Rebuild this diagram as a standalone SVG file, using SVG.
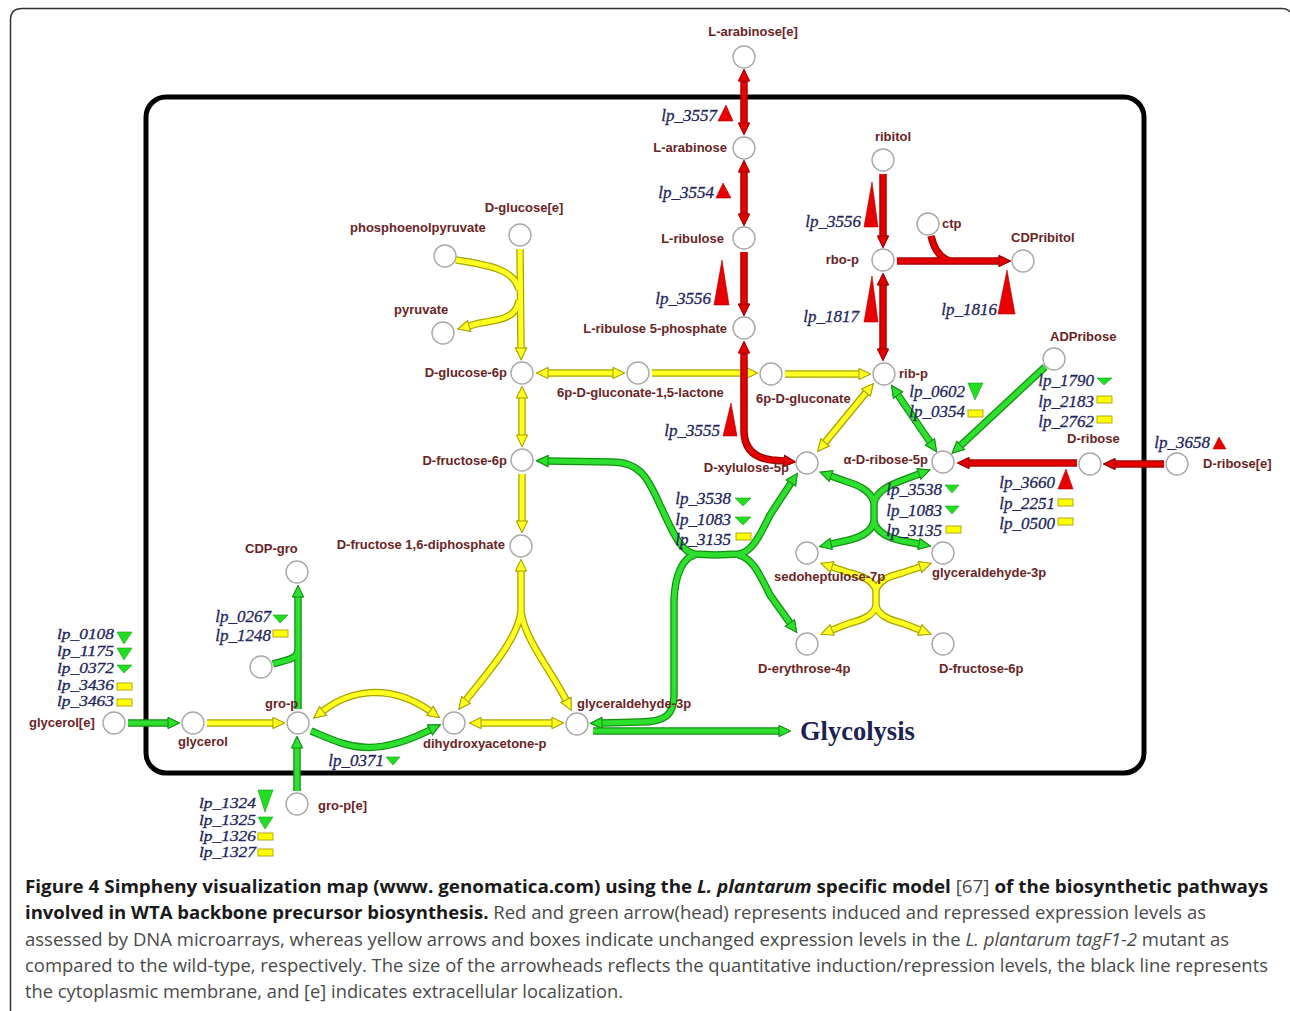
<svg xmlns="http://www.w3.org/2000/svg" xmlns:xlink="http://www.w3.org/1999/xlink" width="1290" height="1011" viewBox="0 0 1290 1011">
<style>
.n{fill:#fff;stroke:#a9a9a9;stroke-width:1.4}
.lb{font-family:"Liberation Sans",Arial,sans-serif;font-weight:bold;font-size:13px;fill:#6b2424}
.g{font-family:"Liberation Serif","Times New Roman",serif;font-style:italic;font-size:17px;fill:#23265c;stroke:#23265c;stroke-width:.3}
.gs{font-size:15px}
.tr{fill:#e80000;stroke:#b00000;stroke-width:.6}
.tg{fill:#22dd22;stroke:#14a014;stroke-width:.6}
.bx{fill:#ffff00;stroke:#b0a000;stroke-width:.9}
.yo{fill:none;stroke:#a8a200;stroke-width:7.5}
.yf{fill:none;stroke:#ffff22;stroke-width:5}
.go{fill:none;stroke:#148f14;stroke-width:7.5}
.gf{fill:none;stroke:#2de02d;stroke-width:5}
.ro{fill:none;stroke:#a00000;stroke-width:7.5}
.rf{fill:none;stroke:#e50000;stroke-width:5}
.cap{font-family:"Open Sans","Noto Sans",sans-serif;font-size:18px;fill:#4a4a4a}
.cb{font-weight:bold;fill:#1a1a1a}
</style>
<defs>
<marker id="ay" markerUnits="userSpaceOnUse" markerWidth="14" markerHeight="14" refX="0" refY="6" orient="auto-start-reverse" overflow="visible"><path d="M0,0.5 L11.5,6 L0,11.5z" fill="#ffff22" stroke="#a8a200" stroke-width="1"/></marker>
<marker id="ag" markerUnits="userSpaceOnUse" markerWidth="14" markerHeight="14" refX="0" refY="6" orient="auto-start-reverse" overflow="visible"><path d="M0,0.5 L11.5,6 L0,11.5z" fill="#2de02d" stroke="#148f14" stroke-width="1"/></marker>
<marker id="ar" markerUnits="userSpaceOnUse" markerWidth="14" markerHeight="14" refX="0" refY="6" orient="auto-start-reverse" overflow="visible"><path d="M0,0.5 L11.5,6 L0,11.5z" fill="#e50000" stroke="#a00000" stroke-width="1"/></marker>
<path id="r1" d="M744,81 L744,123" marker-start="url(#ar)" marker-end="url(#ar)"/>
<path id="r2" d="M744,172 L744,214" marker-start="url(#ar)" marker-end="url(#ar)"/>
<path id="r3" d="M744,252 L744,304" marker-end="url(#ar)"/>
<path id="r4" d="M744,353 L744,432 Q745,457 772,460 L784,461" marker-start="url(#ar)" marker-end="url(#ar)"/>
<path id="r5" d="M883,174 L883,236" marker-end="url(#ar)"/>
<path id="r6" d="M883,285 L883,349" marker-start="url(#ar)" marker-end="url(#ar)"/>
<path id="r7" d="M897,261 L999,261" marker-end="url(#ar)"/>
<path id="r8" d="M931,236 Q936,257 950,261"/>
<path id="r9" d="M1164,464 L1115,464" marker-end="url(#ar)"/>
<path id="r10" d="M1077,463 L969,463" marker-end="url(#ar)"/>
<path id="g1" d="M898,395 L930,442" marker-start="url(#ag)" marker-end="url(#ag)"/>
<path id="g2" d="M1045,367 L960.6,445.5" marker-end="url(#ag)"/>
<path id="g3a" d="M715,555 L695,554 C680,552 672,530 660,505 C648,478 640,462 612,462 L548,461" marker-end="url(#ag)"/>
<path id="g3b" d="M715,555 L738,554 C752,553 760,535 770,515 L791,483" marker-end="url(#ag)"/>
<path id="g3c" d="M738,555 C752,557 760,575 770,595 L790,623" marker-end="url(#ag)"/>
<path id="g3d" d="M695,555 C683,557 675,575 674,600 L674,695 C674,715 665,722 640,722 L602,723" marker-end="url(#ag)"/>
<path id="g4" d="M593,731 L779,731" marker-end="url(#ag)"/>
<path id="g5a" d="M874,502 C870,490 858,485 845,481 L831,476" marker-end="url(#ag)"/>
<path id="g5b" d="M874,502 C878,490 890,485 903,480 L919,474" marker-end="url(#ag)"/>
<path id="g5c" d="M874,522 C870,534 858,538 845,541 L831,544" marker-end="url(#ag)"/>
<path id="g5d" d="M874,522 C878,534 890,538 903,541 L919,544" marker-end="url(#ag)"/>
<path id="g5e" d="M874,500 L874,524"/>
<path id="g6" d="M311,731 C345,745 370,760 430,730" marker-end="url(#ag)"/>
<path id="g7" d="M128,723 L168,723" marker-end="url(#ag)"/>
<path id="g8" d="M297,791 L297,748" marker-end="url(#ag)"/>
<path id="g9" d="M298,709 L298,597" marker-end="url(#ag)"/>
<path id="g10" d="M273,664 C285,660 297,660 298,650"/>
<path id="y1" d="M520,249 L521,348" marker-end="url(#ay)"/>
<path id="y2" d="M456,260 C490,265 515,270 519,290"/>
<path id="y3" d="M519,300 C517,318 500,320 480,323 L469,326" marker-end="url(#ay)"/>
<path id="y4" d="M548,373 L613,373" marker-start="url(#ay)" marker-end="url(#ay)"/>
<path id="y5" d="M652,373 L746,373" marker-end="url(#ay)"/>
<path id="y6" d="M785,374 L859,374" marker-end="url(#ay)"/>
<path id="y7" d="M825,442.5 L866,392.5" marker-start="url(#ay)" marker-end="url(#ay)"/>
<path id="y8" d="M522,398 L522,435" marker-start="url(#ay)" marker-end="url(#ay)"/>
<path id="y9" d="M522,474 L522,521" marker-end="url(#ay)"/>
<path id="y10" d="M521,571 L521,615" marker-start="url(#ay)"/>
<path id="y11" d="M521,612 C517,640 488,672 466,700" marker-end="url(#ay)"/>
<path id="y12" d="M521,612 C525,640 552,672 566,700" marker-end="url(#ay)"/>
<path id="y13" d="M481,723 L552,723" marker-start="url(#ay)" marker-end="url(#ay)"/>
<path id="y14" d="M323,711 C350,690 390,683 430,711" marker-start="url(#ay)" marker-end="url(#ay)"/>
<path id="y15" d="M207,723 L273,723" marker-end="url(#ay)"/>
<path id="y16a" d="M876,590 C873,580 862,576 850,573 L832,567" marker-end="url(#ay)"/>
<path id="y16b" d="M876,590 C879,580 890,576 902,573 L920,567" marker-end="url(#ay)"/>
<path id="y16c" d="M876,606 C873,616 862,620 850,623 L832,630" marker-end="url(#ay)"/>
<path id="y16d" d="M876,606 C879,616 890,620 902,623 L920,630" marker-end="url(#ay)"/>
<path id="y16e" d="M876,588 L876,608"/>
</defs>
<rect width="1290" height="1011" fill="#fff"/>
<path d="M10.5,1011 L10.5,20 Q10.5,8.5 22,8.5 L1282,8.5 Q1287,8.5 1290,12" fill="none" stroke="#333" stroke-width="1.5"/>
<rect x="146" y="97" width="998" height="676" rx="20" fill="none" stroke="#000" stroke-width="5"/>
<g id="connectors">
<use href="#y1" class="yo"/><use href="#y2" class="yo"/><use href="#y3" class="yo"/><use href="#y4" class="yo"/><use href="#y5" class="yo"/><use href="#y6" class="yo"/><use href="#y7" class="yo"/><use href="#y8" class="yo"/><use href="#y9" class="yo"/><use href="#y10" class="yo"/><use href="#y11" class="yo"/><use href="#y12" class="yo"/><use href="#y13" class="yo"/><use href="#y14" class="yo"/><use href="#y15" class="yo"/><use href="#y16a" class="yo"/><use href="#y16b" class="yo"/><use href="#y16c" class="yo"/><use href="#y16d" class="yo"/><use href="#y16e" class="yo"/>
<use href="#y1" class="yf"/><use href="#y2" class="yf"/><use href="#y3" class="yf"/><use href="#y4" class="yf"/><use href="#y5" class="yf"/><use href="#y6" class="yf"/><use href="#y7" class="yf"/><use href="#y8" class="yf"/><use href="#y9" class="yf"/><use href="#y10" class="yf"/><use href="#y11" class="yf"/><use href="#y12" class="yf"/><use href="#y13" class="yf"/><use href="#y14" class="yf"/><use href="#y15" class="yf"/><use href="#y16a" class="yf"/><use href="#y16b" class="yf"/><use href="#y16c" class="yf"/><use href="#y16d" class="yf"/><use href="#y16e" class="yf"/>
<use href="#g1" class="go"/><use href="#g2" class="go"/><use href="#g3a" class="go"/><use href="#g3b" class="go"/><use href="#g3c" class="go"/><use href="#g3d" class="go"/><use href="#g4" class="go"/><use href="#g5a" class="go"/><use href="#g5b" class="go"/><use href="#g5c" class="go"/><use href="#g5d" class="go"/><use href="#g5e" class="go"/><use href="#g6" class="go"/><use href="#g7" class="go"/><use href="#g8" class="go"/><use href="#g9" class="go"/><use href="#g10" class="go"/>
<use href="#g1" class="gf"/><use href="#g2" class="gf"/><use href="#g3a" class="gf"/><use href="#g3b" class="gf"/><use href="#g3c" class="gf"/><use href="#g3d" class="gf"/><use href="#g4" class="gf"/><use href="#g5a" class="gf"/><use href="#g5b" class="gf"/><use href="#g5c" class="gf"/><use href="#g5d" class="gf"/><use href="#g5e" class="gf"/><use href="#g6" class="gf"/><use href="#g7" class="gf"/><use href="#g8" class="gf"/><use href="#g9" class="gf"/><use href="#g10" class="gf"/>
<use href="#r1" class="ro"/><use href="#r2" class="ro"/><use href="#r3" class="ro"/><use href="#r4" class="ro"/><use href="#r5" class="ro"/><use href="#r6" class="ro"/><use href="#r7" class="ro"/><use href="#r8" class="ro"/><use href="#r9" class="ro"/><use href="#r10" class="ro"/>
<use href="#r1" class="rf"/><use href="#r2" class="rf"/><use href="#r3" class="rf"/><use href="#r4" class="rf"/><use href="#r5" class="rf"/><use href="#r6" class="rf"/><use href="#r7" class="rf"/><use href="#r8" class="rf"/><use href="#r9" class="rf"/><use href="#r10" class="rf"/>
</g>
<g id="nodes">
<g id="n-arae"><circle class="n" cx="744" cy="57" r="11"/><text class="lb" x="753" y="36" text-anchor="middle">L-arabinose[e]</text></g>
<g id="n-ara"><circle class="n" cx="744" cy="148" r="11"/><text class="lb" x="727" y="152" text-anchor="end">L-arabinose</text></g>
<g id="n-rbl"><circle class="n" cx="744" cy="238" r="11"/><text class="lb" x="724" y="243" text-anchor="end">L-ribulose</text></g>
<g id="n-ru5p"><circle class="n" cx="744" cy="328" r="11"/><text class="lb" x="727" y="333" text-anchor="end">L-ribulose 5-phosphate</text></g>
<g id="n-glce"><circle class="n" cx="520" cy="235" r="11"/><text class="lb" x="524" y="212" text-anchor="middle">D-glucose[e]</text></g>
<g id="n-pep"><circle class="n" cx="445" cy="256" r="11"/><text class="lb" x="350" y="232">phosphoenolpyruvate</text></g>
<g id="n-pyr"><circle class="n" cx="443" cy="333" r="11"/><text class="lb" x="394" y="314">pyruvate</text></g>
<g id="n-g6p"><circle class="n" cx="522" cy="373" r="11"/><text class="lb" x="507" y="377" text-anchor="end">D-glucose-6p</text></g>
<g id="n-6pgl"><circle class="n" cx="638" cy="373" r="11"/><text class="lb" x="557" y="397">6p-D-gluconate-1,5-lactone</text></g>
<g id="n-6pgc"><circle class="n" cx="771" cy="374" r="11"/><text class="lb" x="756" y="403">6p-D-gluconate</text></g>
<g id="n-ribp"><circle class="n" cx="884" cy="374" r="11"/><text class="lb" x="899" y="378">rib-p</text></g>
<g id="n-ribitol"><circle class="n" cx="883" cy="160" r="11"/><text class="lb" x="893" y="141" text-anchor="middle">ribitol</text></g>
<g id="n-rbop"><circle class="n" cx="883" cy="260" r="11"/><text class="lb" x="859" y="264" text-anchor="end">rbo-p</text></g>
<g id="n-ctp"><circle class="n" cx="928" cy="224" r="11"/><text class="lb" x="942" y="228">ctp</text></g>
<g id="n-cdprib"><circle class="n" cx="1023" cy="261" r="11"/><text class="lb" x="1011" y="242">CDPribitol</text></g>
<g id="n-adprib"><circle class="n" cx="1054" cy="359" r="11"/><text class="lb" x="1050" y="341">ADPribose</text></g>
<g id="n-r5p"><circle class="n" cx="943" cy="462" r="11"/><text class="lb" x="928" y="464" text-anchor="end">α-D-ribose-5p</text></g>
<g id="n-rib"><circle class="n" cx="1090" cy="464" r="11"/><text class="lb" x="1067" y="443">D-ribose</text></g>
<g id="n-ribe"><circle class="n" cx="1177" cy="464" r="11"/><text class="lb" x="1203" y="468">D-ribose[e]</text></g>
<g id="n-xu5p"><circle class="n" cx="807" cy="463" r="11"/><text class="lb" x="789" y="472" text-anchor="end">D-xylulose-5p</text></g>
<g id="n-f6p"><circle class="n" cx="522" cy="460" r="11"/><text class="lb" x="507" y="465" text-anchor="end">D-fructose-6p</text></g>
<g id="n-fdp"><circle class="n" cx="521" cy="546" r="11"/><text class="lb" x="505" y="549" text-anchor="end">D-fructose 1,6-diphosphate</text></g>
<g id="n-s7p"><circle class="n" cx="807" cy="553" r="11"/><text class="lb" x="774" y="581">sedoheptulose-7p</text></g>
<g id="n-g3p2"><circle class="n" cx="943" cy="553" r="11"/><text class="lb" x="932" y="577">glyceraldehyde-3p</text></g>
<g id="n-e4p"><circle class="n" cx="807" cy="644" r="11"/><text class="lb" x="758" y="673">D-erythrose-4p</text></g>
<g id="n-f6p2"><circle class="n" cx="943" cy="644" r="11"/><text class="lb" x="939" y="673">D-fructose-6p</text></g>
<g id="n-cdpgro"><circle class="n" cx="297" cy="572" r="11"/><text class="lb" x="245" y="553">CDP-gro</text></g>
<g id="n-ctp2"><circle class="n" cx="261" cy="667" r="11"/></g>
<g id="n-grop"><circle class="n" cx="298" cy="723" r="11"/><text class="lb" x="265" y="708">gro-p</text></g>
<g id="n-glyce"><circle class="n" cx="114" cy="723" r="11"/><text class="lb" x="29" y="727">glycerol[e]</text></g>
<g id="n-glyc"><circle class="n" cx="193" cy="723" r="11"/><text class="lb" x="178" y="746">glycerol</text></g>
<g id="n-dhap"><circle class="n" cx="454" cy="723" r="11"/><text class="lb" x="423" y="748">dihydroxyacetone-p</text></g>
<g id="n-g3p"><circle class="n" cx="577" cy="724" r="11"/><text class="lb" x="577" y="708">glyceraldehyde-3p</text></g>
<g id="n-grope"><circle class="n" cx="297" cy="804" r="11"/><text class="lb" x="318" y="810">gro-p[e]</text></g>
<g id="n-glycolysis"><text x="800" y="740" font-family="Liberation Serif,Times New Roman,serif" font-weight="bold" font-size="26.5" fill="#1c2352">Glycolysis</text></g>
</g>
<g id="genes">
<text class="g" x="717" y="121" text-anchor="end">lp_3557</text><path class="tr" d="M718,121 L733,121 L726,105z"/>
<text class="g" x="714" y="198" text-anchor="end">lp_3554</text><path class="tr" d="M716,198 L731,198 L723,183z"/>
<text class="g" x="711" y="304" text-anchor="end">lp_3556</text><path class="tr" d="M714,305 L729,305 L722,260z"/>
<text class="g" x="720" y="436" text-anchor="end">lp_3555</text><path class="tr" d="M723,436 L737,436 L731,403z"/>
<text class="g" x="861" y="227" text-anchor="end">lp_3556</text><path class="tr" d="M864,227 L878,227 L872,182z"/>
<text class="g" x="859" y="322" text-anchor="end">lp_1817</text><path class="tr" d="M864,322 L878,322 L872,276z"/>
<text class="g" x="997" y="315" text-anchor="end">lp_1816</text><path class="tr" d="M998,314 L1015,314 L1007,270z"/>
<text class="g" x="965" y="397" text-anchor="end">lp_0602</text><path class="tg" d="M968,383 L983,383 L975,400z"/>
<text class="g" x="965" y="417" text-anchor="end">lp_0354</text><rect class="bx" x="968" y="410" width="15" height="7"/>
<text class="g" x="1094" y="386" text-anchor="end">lp_1790</text><path class="tg" d="M1097,378 L1112,378 L1104,385z"/>
<text class="g" x="1094" y="407" text-anchor="end">lp_2183</text><rect class="bx" x="1097" y="396" width="15" height="7"/>
<text class="g" x="1094" y="427" text-anchor="end">lp_2762</text><rect class="bx" x="1097" y="416" width="15" height="7"/>
<text class="g" x="1210" y="448" text-anchor="end">lp_3658</text><path class="tr" d="M1213,449 L1226,449 L1219,437z"/>
<text class="g" x="1055" y="488" text-anchor="end">lp_3660</text><path class="tr" d="M1058,489 L1073,489 L1066,469z"/>
<text class="g" x="1055" y="509" text-anchor="end">lp_2251</text><rect class="bx" x="1058" y="499" width="15" height="7"/>
<text class="g" x="1055" y="529" text-anchor="end">lp_0500</text><rect class="bx" x="1058" y="518" width="15" height="7"/>
<text class="g" x="942" y="495" text-anchor="end">lp_3538</text><path class="tg" d="M945,485 L959,485 L952,493z"/>
<text class="g" x="942" y="516" text-anchor="end">lp_1083</text><path class="tg" d="M945,506 L959,506 L952,514z"/>
<text class="g" x="942" y="536" text-anchor="end">lp_3135</text><rect class="bx" x="946" y="526" width="15" height="7"/>
<text class="g" x="731" y="504" text-anchor="end">lp_3538</text><path class="tg" d="M735,498 L751,498 L743,506z"/>
<text class="g" x="731" y="525" text-anchor="end">lp_1083</text><path class="tg" d="M735,517 L751,517 L743,525z"/>
<text class="g" x="731" y="545" text-anchor="end">lp_3135</text><rect class="bx" x="736" y="533" width="15" height="7"/>
<text class="g" x="271" y="622" text-anchor="end">lp_0267</text><path class="tg" d="M273,615 L288,615 L280,623z"/>
<text class="g" x="271" y="641" text-anchor="end">lp_1248</text><rect class="bx" x="273" y="630" width="15" height="7"/>
<text class="g gs" x="57" y="639" textLength="57" lengthAdjust="spacingAndGlyphs">lp_0108</text><path class="tg" d="M117,632 L132,632 L124,644z"/>
<text class="g gs" x="57" y="656" textLength="57" lengthAdjust="spacingAndGlyphs">lp_1175</text><path class="tg" d="M117,648 L132,648 L124,660z"/>
<text class="g gs" x="57" y="673" textLength="57" lengthAdjust="spacingAndGlyphs">lp_0372</text><path class="tg" d="M117,665 L132,665 L124,673z"/>
<text class="g gs" x="57" y="690" textLength="57" lengthAdjust="spacingAndGlyphs">lp_3436</text><rect class="bx" x="117" y="683" width="15" height="7"/>
<text class="g gs" x="57" y="706" textLength="57" lengthAdjust="spacingAndGlyphs">lp_3463</text><rect class="bx" x="117" y="699" width="15" height="7"/>
<text class="g" x="384" y="766" text-anchor="end">lp_0371</text><path class="tg" d="M386,757 L400,757 L393,765z"/>
<text class="g gs" x="199" y="808" textLength="57" lengthAdjust="spacingAndGlyphs">lp_1324</text><path class="tg" d="M258,790 L273,790 L265,812z"/>
<text class="g gs" x="199" y="825" textLength="57" lengthAdjust="spacingAndGlyphs">lp_1325</text><path class="tg" d="M258,817 L273,817 L265,829z"/>
<text class="g gs" x="199" y="841" textLength="57" lengthAdjust="spacingAndGlyphs">lp_1326</text><rect class="bx" x="258" y="833" width="15" height="7"/>
<text class="g gs" x="199" y="857" textLength="57" lengthAdjust="spacingAndGlyphs">lp_1327</text><rect class="bx" x="258" y="849" width="15" height="7"/>
</g>
<g id="caption" class="cap">
<text x="25" y="893" textLength="1243" lengthAdjust="spacingAndGlyphs"><tspan class="cb">Figure 4 Simpheny visualization map (www. genomatica.com) using the </tspan><tspan class="cb" font-style="italic">L. plantarum</tspan><tspan class="cb"> specific model </tspan><tspan>[67]</tspan><tspan class="cb"> of the biosynthetic pathways</tspan></text>
<text x="25" y="919" textLength="1181" lengthAdjust="spacingAndGlyphs"><tspan class="cb">involved in WTA backbone precursor biosynthesis.</tspan> Red and green arrow(head) represents induced and repressed expression levels as</text>
<text x="25" y="946" textLength="1204" lengthAdjust="spacingAndGlyphs">assessed by DNA microarrays, whereas yellow arrows and boxes indicate unchanged expression levels in the <tspan font-style="italic">L. plantarum tagF1-2</tspan> mutant as</text>
<text x="25" y="972" textLength="1243" lengthAdjust="spacingAndGlyphs">compared to the wild-type, respectively. The size of the arrowheads reflects the quantitative induction/repression levels, the black line represents</text>
<text x="25" y="998" textLength="598" lengthAdjust="spacingAndGlyphs">the cytoplasmic membrane, and [e] indicates extracellular localization.</text>
</g>
</svg>
